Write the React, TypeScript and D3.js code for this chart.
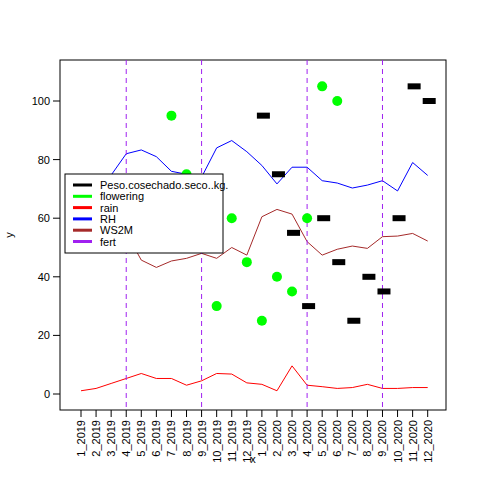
import React from 'react'
import * as d3 from 'd3'

const months = Array.from({ length: 24 }, (_, i) => `${(i % 12) + 1}_${i < 12 ? 2019 : 2020}`)

const peso: (number | null)[] = [null, null, null, null, null, null, null, null, null, null, null, null,
  95, 75, 55, 30, 60, 45, 25, 40, 35, 60, 105, 100]
const flowering: (number | null)[] = [null, null, null, null, null, null, 95, 75, null, 30, 60, 45,
  25, 40, 35, 60, 105, 100, null, null, null, null, null, null]
const rain = [1.1, 1.9, 3.6, 5.3, 7, 5.3, 5.3, 3, 4.5, 7, 6.8, 3.8,
  3.3, 1.1, 9.6, 3, 2.5, 1.9, 2.2, 3.3, 1.9, 1.9, 2.2, 2.2]
const rh = [71, 70, 74.7, 82, 83.3, 81, 76, 75, 74, 84, 86.5, 82.7,
  78, 71.7, 77.4, 77.4, 72.8, 72, 70.3, 71.3, 72.8, 69.3, 79, 74.6]
const ws2m = [50, 52, 54, 55, 45.7, 43.2, 45.4, 46.3, 48, 46.3, 50, 47.4,
  60.5, 63, 61.4, 52, 47.4, 49.4, 50.5, 49.7, 53.7, 53.9, 54.8, 52.2]
const fertMonths = [3, 8, 15, 20]
const yTicks = [0, 20, 40, 60, 80, 100]

const legendItems = [
  { label: 'Peso.cosechado.seco..kg.', color: 'black' },
  { label: 'flowering', color: '#00ff00' },
  { label: 'rain', color: 'red' },
  { label: 'RH', color: 'blue' },
  { label: 'WS2M', color: 'brown' },
  { label: 'fert', color: '#a020f0' },
]

export default function App() {
  const left = 60, right = 446, top = 60, bottom = 410
  const x = d3.scaleLinear().domain([0, 23]).range([81, 427.7])
  const y = d3.scaleLinear().domain([0, 100]).range([394, 101])
  const line = d3.line<number>().x((_, i) => x(i)).y(d => y(d))
  const font = 'Liberation Sans, Arial, sans-serif'

  return (
    <svg width={480} height={480} style={{ position: 'absolute', left: 0, top: 0, background: 'white' }} fontFamily={font}>
      <rect x={left} y={top} width={right - left} height={bottom - top} fill="none" stroke="black" />
      <path d={line(rain) ?? ''} fill="none" stroke="red" />
      <path d={line(rh) ?? ''} fill="none" stroke="blue" />
      <path d={line(ws2m) ?? ''} fill="none" stroke="brown" />
      {fertMonths.map(m => (
        <line key={m} x1={x(m)} x2={x(m)} y1={top} y2={bottom} stroke="#a020f0" strokeDasharray="5,4" />
      ))}
      {flowering.map((v, i) => v == null ? null : (
        <circle key={i} cx={x(i)} cy={y(v)} r={5} fill="#00ff00" />
      ))}
      {peso.map((v, i) => v == null ? null : (
        <rect key={i} x={x(i) - 5} y={y(v) - 3} width={13} height={6} fill="black" />
      ))}
      {yTicks.map(t => (
        <g key={t}>
          <line x1={left - 7} x2={left} y1={y(t)} y2={y(t)} stroke="black" />
          <text x={left - 10} y={y(t) + 4} fontSize={11} textAnchor="end">{t}</text>
        </g>
      ))}
      {months.map((m, i) => (
        <g key={m}>
          <line x1={x(i)} x2={x(i)} y1={bottom} y2={bottom + 7} stroke="black" />
          <text transform={`translate(${x(i) + 4},${bottom + 10}) rotate(-90)`} fontSize={11} textAnchor="end">{m}</text>
        </g>
      ))}
      <text x={253} y={463} fontSize={11} textAnchor="middle">x</text>
      <text transform="translate(13,235) rotate(-90)" fontSize={11} textAnchor="middle">y</text>
      <g>
        <rect x={65} y={174} width={158} height={79} fill="white" stroke="black" />
        {legendItems.map((it, i) => (
          <g key={it.label}>
            <line x1={73} x2={92} y1={185 + i * 11.3} y2={185 + i * 11.3} stroke={it.color} strokeWidth={3} />
            <text x={100} y={189 + i * 11.3} fontSize={11}>{it.label}</text>
          </g>
        ))}
      </g>
    </svg>
  )
}
